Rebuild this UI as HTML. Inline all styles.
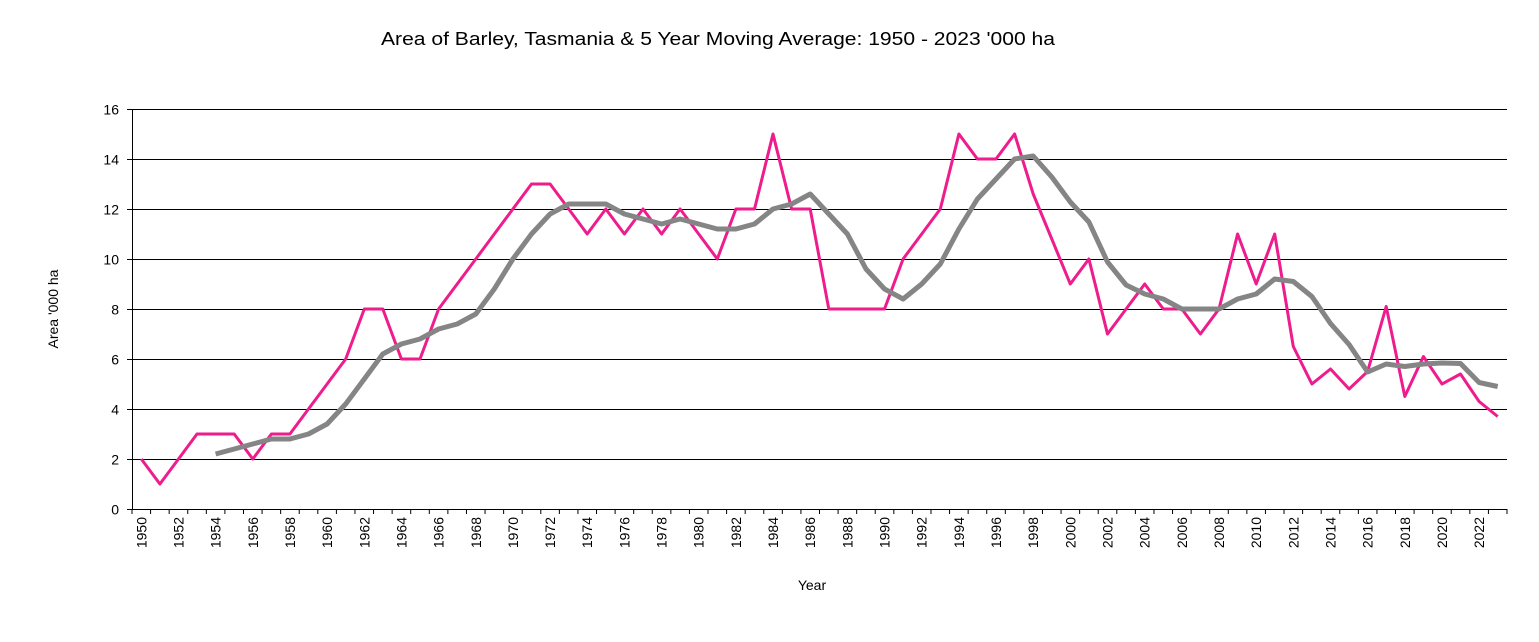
<!DOCTYPE html>
<html><head><meta charset="utf-8"><style>
body{margin:0;background:#fff;font-family:"Liberation Sans",Arial,sans-serif;}
svg text{font-family:"Liberation Sans",Arial,sans-serif;}
</style></head><body>
<svg id="c" width="1539" height="637" xmlns="http://www.w3.org/2000/svg"></svg>
<script>
const d=[2,1,2,3,3,3,2,3,3,4,5,6,8,8,6,6,8,9,10,11,12,13,13,12,11,12,11,12,11,12,11,10,12,12,15,12,12,8,8,8,8,10,11,12,15,14,14,15,12.6,10.8,9,10,7,8,9,8,8,7,8,11,9,11,6.5,5,5.6,4.8,5.5,8.1,4.5,6.1,5,5.4,4.3,3.7];
const x0=132,x1=1507,y0=509,n=d.length,cw=(x1-x0)/n;
const X=i=>x0+cw*(i+0.5),Y=v=>y0-v*25;
let s='';
s+='<text x="381" y="45" font-size="18" textLength="674" lengthAdjust="spacingAndGlyphs">Area of Barley, Tasmania &amp; 5 Year Moving Average: 1950 - 2023 \'000 ha</text>';
for(let v=0;v<=16;v+=2){const y=Y(v)+0.5;if(v>0)s+=`<line x1="${x0}" x2="${x1}" y1="${y}" y2="${y}" stroke="#000" stroke-width="1"/>`;
s+=`<line x1="${x0-5}" x2="${x0}" y1="${y}" y2="${y}" stroke="#000"/>`;
s+=`<text x="${x0-13}" y="${y+5}" font-size="14" text-anchor="end">${v}</text>`;}
s+=`<line x1="${x0+0.5}" x2="${x0+0.5}" y1="${Y(16)}" y2="${y0}" stroke="#000"/>`;
s+=`<line x1="${x0}" x2="${x1}" y1="${y0+0.5}" y2="${y0+0.5}" stroke="#000"/>`;
for(let i=0;i<=n;i++){const x=x0+cw*i;s+=`<line x1="${x}" x2="${x}" y1="${y0}" y2="${y0+5}" stroke="#000"/>`;}
for(let i=0;i<n;i+=2){const x=X(i);s+=`<text transform="translate(${x+5},${y0+8}) rotate(-90)" font-size="14" text-anchor="end">${1950+i}</text>`;}
s+=`<text x="812" y="590" font-size="14" text-anchor="middle">Year</text>`;
s+=`<text transform="translate(58,309) rotate(-90)" font-size="14" text-anchor="middle">Area '000 ha</text>`;
let p=d.map((v,i)=>X(i).toFixed(1)+','+Y(v).toFixed(1)).join(' ');
s+=`<polyline points="${p}" fill="none" stroke="#ee1c8c" stroke-width="3" stroke-linejoin="round"/>`;
let m=[];for(let i=4;i<n;i++){let a=0;for(let k=0;k<5;k++)a+=d[i-k];m.push(X(i).toFixed(1)+','+Y(a/5).toFixed(1));}
s+=`<polyline points="${m.join(' ')}" fill="none" stroke="#858585" stroke-width="5" stroke-linejoin="round"/>`;
document.getElementById('c').innerHTML=s;
</script>
</body></html>
